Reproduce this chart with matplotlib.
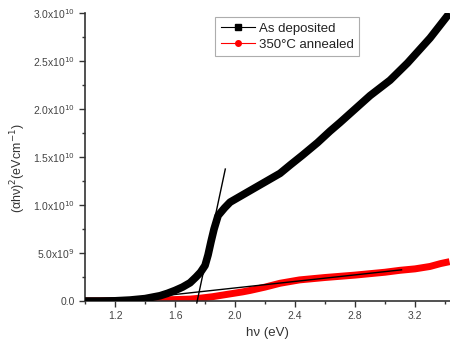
import matplotlib
matplotlib.use('Agg')
import matplotlib.pyplot as plt
from matplotlib.ticker import FixedLocator, MultipleLocator

plt.rcParams['font.family'] = ['Liberation Sans', 'DejaVu Sans']

# as deposited
hv_dep = [1.00, 1.10, 1.20, 1.30, 1.40, 1.45, 1.50, 1.55, 1.60, 1.65, 1.70, 1.74, 1.77, 1.80,
          1.82, 1.84, 1.86, 1.887, 1.93, 1.967, 2.10, 2.20, 2.30, 2.37, 2.45, 2.55, 2.633,
          2.70, 2.80, 2.90, 3.033, 3.15, 3.30, 3.43]
y_dep = [0.00, 0.00, 0.02, 0.10, 0.25, 0.40, 0.55, 0.80, 1.10, 1.45, 1.90, 2.50, 3.00, 3.70,
         4.80, 6.20, 7.50, 8.90, 9.70, 10.30, 11.50, 12.40, 13.30, 14.20, 15.20, 16.50, 17.70,
         18.60, 20.00, 21.40, 23.00, 24.80, 27.40, 30.00]
y_dep = [v * 1e9 for v in y_dep]

# 350C annealed
hv_ann = [1.00, 1.20, 1.40, 1.60, 1.70, 1.77, 1.85, 1.95, 2.05, 2.10, 2.20, 2.30, 2.43, 2.60,
          2.80, 3.00, 3.10, 3.20, 3.30, 3.37, 3.43]
y_ann = [0.00, 0.02, 0.08, 0.15, 0.20, 0.30, 0.45, 0.70, 0.95, 1.10, 1.45, 1.85, 2.20, 2.45,
         2.70, 3.00, 3.20, 3.35, 3.60, 3.90, 4.10]
y_ann = [v * 1e9 for v in y_ann]

# tangent lines
tan1_x = [1.745, 1.935]
tan1_y = [-0.2e9, 13.75e9]
tan2_x = [1.20, 3.11]
tan2_y = [0.0, 3.25e9]

yticks = [0, 5e9, 1e10, 1.5e10, 2e10, 2.5e10, 3e10]
ylabels = ['0.0', r'5.0x10$^{9}$', r'1.0x10$^{10}$', r'1.5x10$^{10}$',
           r'2.0x10$^{10}$', r'2.5x10$^{10}$', r'3.0x10$^{10}$']
xticks = [1.2, 1.6, 2.0, 2.4, 2.8, 3.2]

fig = plt.figure(figsize=(4.5, 3.49), dpi=100)
ax = fig.add_axes([0.189, 0.1375, 0.811, 0.825])

ax.plot(hv_ann, y_ann, color='red', linewidth=5, solid_capstyle='butt', zorder=2)
ax.plot(hv_dep, y_dep, color='black', linewidth=5.5, solid_capstyle='butt', zorder=3)
ax.plot(tan1_x, tan1_y, color='black', linewidth=1, zorder=4, clip_on=False)
ax.plot(tan2_x, tan2_y, color='black', linewidth=1, zorder=4)

# legend handles
ax.plot([], [], color='black', marker='s', markersize=4, linewidth=0.8, label='As deposited')
ax.plot([], [], color='red', marker='o', markersize=4, linewidth=0.8, label='350°C annealed')
leg = ax.legend(loc='upper left', bbox_to_anchor=(0.357, 0.985), fontsize=9.5, frameon=True,
                fancybox=False, edgecolor='#999999', handlelength=2.6, borderpad=0.4,
                labelspacing=0.3, handletextpad=0.3, borderaxespad=0)
leg.get_frame().set_linewidth(0.8)
for t in leg.get_texts():
    t.set_color('#222222')

ax.set_xlim(1.0, 3.433)
ax.set_ylim(0, 3.0e10)
ax.xaxis.set_major_locator(FixedLocator(xticks))
ax.xaxis.set_minor_locator(MultipleLocator(0.2))
ax.yaxis.set_major_locator(FixedLocator(yticks))
ax.yaxis.set_minor_locator(MultipleLocator(2.5e9))
ax.set_yticklabels(ylabels)
ax.set_xticklabels([f'{t:.1f}' for t in xticks])

ax.spines['top'].set_visible(False)
ax.spines['right'].set_visible(False)
for s in ['left', 'bottom']:
    ax.spines[s].set_linewidth(1.2)
    ax.spines[s].set_color('#333333')
ax.tick_params(which='major', direction='out', length=4, width=1, colors='#333333',
               labelsize=7.5, labelcolor='#444444')
ax.tick_params(which='minor', direction='out', length=2.5, width=1, colors='#333333')

ax.set_xlabel('hν (eV)', fontsize=9.5, color='#333333', labelpad=4)
ax.set_ylabel(r'(αhν)$^{2}$(eVcm$^{-1}$)', fontsize=9, color='#333333')
ax.yaxis.set_label_coords(-0.157, 0.462)

fig.savefig('out.png', dpi=100)
